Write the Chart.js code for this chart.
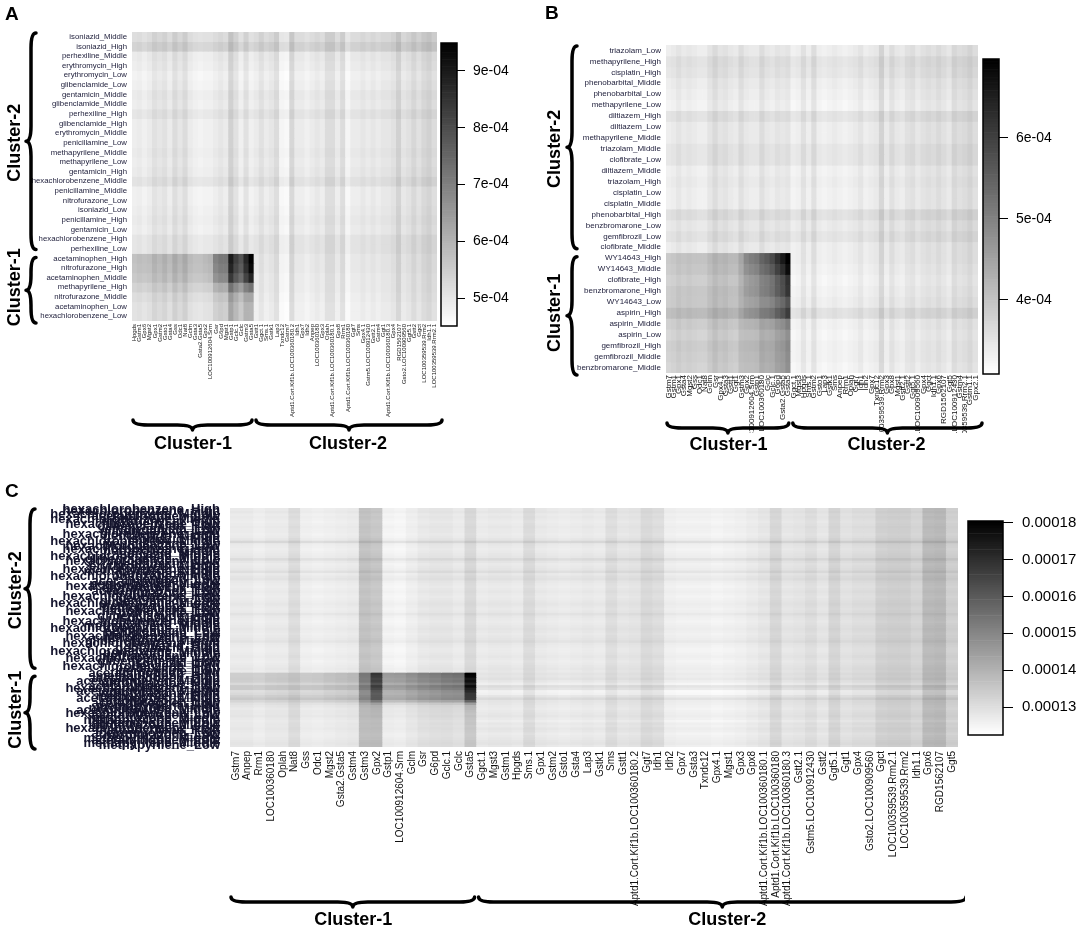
<!DOCTYPE html>
<html>
<head>
<meta charset="utf-8">
<script src="https://cdn.jsdelivr.net/npm/chart.js@4.4.1/dist/chart.umd.min.js"></script>
<style>
html, body { margin: 0; padding: 0; background: #fff; }
#fig { position: relative; width: 1084px; height: 929px; overflow: hidden; background: #fff; }
canvas { position: absolute; }
</style>
</head>
<body>
<div id="fig">
  <canvas id="heatA" width="445" height="470" style="left:0px;top:0px;"></canvas>
  <canvas id="heatB" width="455" height="470" style="left:530px;top:0px;"></canvas>
  <canvas id="heatC" width="965" height="449" style="left:0px;top:480px;"></canvas>
  <canvas id="barA" width="100" height="305" style="left:436px;top:33px;"></canvas>
  <canvas id="barB" width="106" height="335" style="left:978px;top:49px;"></canvas>
  <canvas id="barC" width="124" height="234" style="left:960px;top:511px;"></canvas>
</div>
<script>
// values are in units of 1e-4 throughout

// ---------- panel A ----------
const rowsA = ['isoniazid_Middle', 'isoniazid_High', 'perhexiline_Middle', 'erythromycin_High', 'erythromycin_Low',
  'glibenclamide_Low', 'gentamicin_Middle', 'glibenclamide_Middle', 'perhexiline_High', 'glibenclamide_High',
  'erythromycin_Middle', 'penicillamine_Low', 'methapyrilene_Middle', 'methapyrilene_Low', 'gentamicin_High',
  'hexachlorobenzene_Middle', 'penicillamine_Middle', 'nitrofurazone_Low', 'isoniazid_Low', 'penicillamine_High',
  'gentamicin_Low', 'hexachlorobenzene_High', 'perhexiline_Low',
  'acetaminophen_High', 'nitrofurazone_High', 'acetaminophen_Middle', 'methapyrilene_High', 'nitrofurazone_Middle',
  'acetaminophen_Low', 'hexachlorobenzene_Low'];
const splitRowA = 23;
const colsA = ['Hpgds', 'Gstm1', 'Gpx6', 'Mgst2', 'Gpx1', 'Gstm2', 'Gsto1', 'Gsta4', 'Gss', 'Odc1', 'Nat8', 'Gclm',
  'Gsta3', 'Gsta2.Gsta5', 'Gpx2', 'LOC100912604.Srm', 'Gsr', 'G6pd', 'Mgst1', 'Gstp1', 'Gclc.1', 'Gclc', 'Gstm3', 'Gsta5',
  'Gstt1', 'Ggct.1', 'Sms.1', 'Gstk1', 'Lap3', 'Txndc12', 'Gstm7', 'Aptd1.Cort.Kif1b.LOC100360180.2', 'Idh1', 'Gpx7',
  'Idh2', 'Anpep', 'LOC100360180', 'Gpx3', 'Oplah', 'Aptd1.Cort.Kif1b.LOC100360180.1', 'Gpx8', 'Rrm1',
  'Aptd1.Cort.Kif1b.LOC100360180', 'Ggt7', 'Sms', 'Gpx4.1', 'Gstm5.LOC100912430', 'Gstt2.1', 'Gstm4', 'Ggt1',
  'Aptd1.Cort.Kif1b.LOC100360180.3', 'Gpx4', 'RGD1562107', 'Gsto2.LOC100909560', 'Ggt5.1', 'Gstt2', 'Ggct',
  'LOC100359539.Rrm2', 'Idh1.1', 'LOC100359539.Rrm2.1'];
const splitColA = 24;
// gene level seen in the light rows
const colBaseA = [4.85, 4.9, 4.8, 4.9, 5.1, 5.0, 5.1, 4.9, 5.2, 5.0, 5.2, 4.9, 4.8, 4.75, 4.8, 4.8, 4.9, 5.0, 4.9, 5.4,
  5.1, 4.8, 5.1, 4.8, 4.9, 5.1, 4.9, 5.0, 5.2, 4.7, 4.65, 5.3, 4.9, 4.9, 4.8, 4.9, 5.0, 4.9, 5.2, 5.2, 4.9, 5.2, 4.7,
  4.9, 4.9, 5.0, 4.9, 5.0, 4.9, 5.0, 5.0, 5.1, 5.4, 5.0, 5.1, 5.3, 5.1, 5.3, 5.4, 5.2];
const rowShiftA = [0.3, 0.5, 0.05, 0, -0.1, -0.05, 0.05, 0, 0.15, 0, 0, 0, 0.05, 0, 0.05, 0.2, -0.05, -0.05, 0, 0.05,
  0, 0.15, 0.15, 0.05, 0.05, 0, 0, -0.05, -0.1, -0.1];
// Cluster-1 x Cluster-1 block
const blockLevelA = [0.8, 0.75, 0.7, 0.5, 0.35, 0.3, 0.3];
const blockRampA = [1.0, 0.95, 0.85, 0.5, 0.3, 0.25, 0.25];
const blockColA = [0, 0.05, 0.1, 0.05, 0.1, 0.05, 0.15, 0.1, 0.15, 0.1, 0.15, 0.1, 0.1, 0.15, 0.2, 0.3, 1.2, 1.3,
  1.4, 2.7, 2.3, 2.2, 2.8, 3.9];
const rangeA = [4.51, 9.49];
const ticksA = [5, 6, 7, 8, 9];

// ---------- panel B ----------
const rowsB = ['triazolam_Low', 'methapyrilene_High', 'cisplatin_High', 'phenobarbital_Middle', 'phenobarbital_Low',
  'methapyrilene_Low', 'diltiazem_High', 'diltiazem_Low', 'methapyrilene_Middle', 'triazolam_Middle', 'clofibrate_Low',
  'diltiazem_Middle', 'triazolam_High', 'cisplatin_Low', 'cisplatin_Middle', 'phenobarbital_High', 'benzbromarone_Low',
  'gemfibrozil_Low', 'clofibrate_Middle',
  'WY14643_High', 'WY14643_Middle', 'clofibrate_High', 'benzbromarone_High', 'WY14643_Low', 'aspirin_High',
  'aspirin_Middle', 'aspirin_Low', 'gemfibrozil_High', 'gemfibrozil_Middle', 'benzbromarone_Middle'];
const splitRowB = 19;
const colsB = ['Gstm7', 'Gstm1', 'Gpx1', 'Gsta4', 'Mgst2', 'Gss', 'Odc1', 'Nat8', 'Gclm', 'Gsr', 'Gpx4.1', 'Gsta3',
  'Gstt1', 'Ggt1', 'Gstm3', 'Gpx2', 'LOC100912604.Srm', 'Gstp1', 'LOC100360180', 'Gclc', 'Gclc.1', 'G6pd',
  'Gsta2.Gsta5', 'Gsta5',
  'Ggct.1', 'Mgst3', 'Hpgds', 'Sms.1', 'Gstm2', 'Gsto1', 'Lap3', 'Gstk1', 'Sms', 'Anpep', 'Rrm1', 'Oplah', 'Ggt7',
  'Idh1', 'Idh2', 'Gpx7', 'Txndc12', 'LOC100359539.Rrm2', 'Gpx3', 'Gpx8', 'Mgst1', 'Gstt2.1', 'Gstt2', 'Ggt5.1',
  'Gsto2.LOC100909560', 'Gpx4', 'Ggct', 'Idh1.1', 'Gpx6', 'RGD1562107', 'Ggt5', 'Gstm5.LOC100912430', 'Gstm4',
  'LOC100359539.Rrm2.1', 'Gstm1.1', 'Gpx2.1'];
const splitColB = 24;
const colBaseB = [3.3, 3.35, 3.45, 3.35, 3.4, 3.35, 3.3, 3.3, 3.45, 3.6, 3.45, 3.5, 3.4, 3.35, 3.55, 3.4, 3.35, 3.35,
  3.55, 3.4, 3.35, 3.45, 3.4, 3.45, 3.25, 3.3, 3.5, 3.3, 3.55, 3.3, 3.25, 3.3, 3.35, 3.3, 3.25, 3.3, 3.35, 3.45, 3.3,
  3.35, 3.4, 3.7, 3.35, 3.55, 3.4, 3.35, 3.5, 3.55, 3.4, 3.5, 3.55, 3.5, 3.6, 3.5, 3.4, 3.65, 3.55, 3.6, 3.7, 3.55];
const rowShiftB = [0.05, 0.2, 0.15, 0.05, 0, -0.05, 0.2, 0.05, 0.05, 0.15, 0.15, 0, 0.05, 0, 0, 0.25, 0.1, 0.2, 0.05,
  0.05, 0, -0.05, 0, 0.05, 0.25, 0, -0.05, 0, 0, -0.05];
const blockLevelB = [0.55, 0.55, 0.5, 0.55, 0.5, 0.5, 0.5, 0.45, 0.5, 0.45, 0.45];
const blockRampB = [1.0, 0.9, 0.75, 0.7, 0.55, 0.6, 0.35, 0.3, 0.3, 0.3, 0.3];
const blockColB = [0, 0, 0, 0.05, 0.05, 0.05, 0.1, 0.1, 0.1, 0.1, 0.15, 0.15, 0.15, 0.2, 0.3, 0.9, 1.1, 1.2, 1.3,
  1.6, 1.9, 2.2, 2.6, 3.1];
const rangeB = [3.086, 6.975];
const ticksB = [4, 5, 6];

// ---------- panel C ----------
const rowsC = ['hexachlorobenzene_High', 'hexachlorobenzene_High', 'hexachlorobenzene_Middle', 'acetaminophen_Low',
  'hexachlorobenzene_Middle', 'erythromycin_High', 'hexachlorobenzene_Low', 'glibenclamide_High', 'erythromycin_Low',
  'glibenclamide_Low', 'hexachlorobenzene_High', 'gentamicin_Middle', 'isoniazid_High', 'hexachlorobenzene_Middle',
  'penicillamine_Low', 'hexachlorobenzene_Low', 'hexachlorobenzene_High', 'perhexiline_Middle', 'isoniazid_Middle',
  'hexachlorobenzene_Middle', 'glibenclamide_Middle', 'hexachlorobenzene_Low', 'gentamicin_High', 'erythromycin_Middle',
  'hexachlorobenzene_High', 'methapyrilene_Middle', 'perhexiline_High', 'hexachlorobenzene_Middle', 'isoniazid_Low',
  'acetaminophen_Low', 'penicillamine_Middle', 'hexachlorobenzene_Low', 'erythromycin_High', 'acetaminophen_Low',
  'nitrofurazone_Low', 'hexachlorobenzene_High', 'gentamicin_Low', 'glibenclamide_Low', 'hexachlorobenzene_Middle',
  'methapyrilene_Low', 'penicillamine_High', 'hexachlorobenzene_Low', 'perhexiline_Low', 'glibenclamide_High',
  'isoniazid_Middle', 'hexachlorobenzene_High', 'gentamicin_Middle', 'methapyrilene_Middle', 'hexachlorobenzene_Middle',
  'erythromycin_Low', 'penicillamine_Low', 'hexachlorobenzene_Low', 'nitrofurazone_Low', 'glibenclamide_Middle',
  'hexachlorobenzene_High', 'isoniazid_High', 'gentamicin_High', 'hexachlorobenzene_Middle', 'perhexiline_Middle',
  'methapyrilene_Low', 'hexachlorobenzene_Low', 'glibenclamide_High', 'isoniazid_Low', 'hexachlorobenzene_High',
  'perhexiline_High', 'perhexiline_Low',
  'acetaminophen_High', 'methapyrilene_High', 'acetaminophen_High', 'acetaminophen_Middle', 'nitrofurazone_High',
  'acetaminophen_High', 'hexachlorobenzene_Low', 'acetaminophen_Middle', 'nitrofurazone_High', 'methapyrilene_High',
  'acetaminophen_Middle', 'nitrofurazone_High', 'acetaminophen_Low', 'methapyrilene_High', 'nitrofurazone_Middle',
  'acetaminophen_Middle', 'hexachlorobenzene_Low', 'acetaminophen_Low', 'nitrofurazone_Middle', 'methapyrilene_Middle',
  'acetaminophen_Low', 'nitrofurazone_Middle', 'hexachlorobenzene_Low', 'methapyrilene_High', 'acetaminophen_Low',
  'nitrofurazone_Low', 'methapyrilene_Middle', 'acetaminophen_Low', 'methapyrilene_Middle', 'methapyrilene_Low'];
const splitRowC = 66;
const colsC = ['Gstm7', 'Anpep', 'Rrm1', 'LOC100360180', 'Oplah', 'Nat8', 'Gss', 'Odc1', 'Mgst2', 'Gsta2.Gsta5',
  'Gstm4', 'Gstm3', 'Gpx2', 'Gstp1', 'LOC100912604.Srm', 'Gclm', 'Gsr', 'G6pd', 'Gclc.1', 'Gclc', 'Gsta5',
  'Ggct.1', 'Mgst3', 'Gstm1', 'Hpgds', 'Sms.1', 'Gpx1', 'Gstm2', 'Gsto1', 'Gsta4', 'Lap3', 'Gstk1', 'Sms', 'Gstt1',
  'Aptd1.Cort.Kif1b.LOC100360180.2', 'Ggt7', 'Idh1', 'Idh2', 'Gpx7', 'Gsta3', 'Txndc12', 'Gpx4.1', 'Mgst1', 'Gpx3',
  'Gpx8', 'Aptd1.Cort.Kif1b.LOC100360180.1', 'Aptd1.Cort.Kif1b.LOC100360180', 'Aptd1.Cort.Kif1b.LOC100360180.3',
  'Gstt2.1', 'Gstm5.LOC100912430', 'Gstt2', 'Ggt5.1', 'Ggt1', 'Gpx4', 'Gsto2.LOC100909560', 'Ggct',
  'LOC100359539.Rrm2.1', 'LOC100359539.Rrm2', 'Idh1.1', 'Gpx6', 'RGD1562107', 'Ggt5'];
const splitColC = 21;
const colBaseC = [1.27, 1.27, 1.26, 1.27, 1.27, 1.30, 1.26, 1.255, 1.26, 1.265, 1.27, 1.36, 1.35, 1.25, 1.245, 1.26,
  1.275, 1.28, 1.28, 1.27, 1.31, 1.27, 1.275, 1.275, 1.27, 1.305, 1.275, 1.27, 1.265, 1.27, 1.275, 1.27, 1.30, 1.28,
  1.285, 1.31, 1.30, 1.26, 1.255, 1.255, 1.255, 1.25, 1.255, 1.26, 1.27, 1.28, 1.315, 1.28, 1.285, 1.30, 1.28, 1.32,
  1.29, 1.30, 1.30, 1.33, 1.335, 1.335, 1.32, 1.38, 1.385, 1.33];
const rowShiftC = [0.005, 0.01, 0, 0.005, 0, -0.005, 0, 0.005, 0, 0,
  -0.005, 0, 0.01, 0.045, 0.005, 0, -0.005, 0, 0.005, 0.01,
  0.035, 0.01, 0, 0.005, 0.01, 0.03, 0.005, 0.015, 0.02, 0.005,
  0, -0.005, 0, 0.005, 0, -0.005, 0, 0.005, 0.01, 0.005,
  0, 0.005, 0.02, 0.005, 0, -0.005, 0, 0.005, 0.01, 0.005,
  0, 0.005, 0.01, 0.02, 0.005, 0, -0.005, -0.005, 0, 0.005,
  0, -0.005, 0, 0.005, 0.01, 0.005,
  0.015, 0.01, 0.02, 0.005, -0.01, 0.03, 0.015, -0.02, -0.015, 0.01,
  0.035, 0.01, 0.005, 0, -0.005, 0, 0.005, 0.01, 0, -0.01,
  0.005, 0, 0.01, 0.005, -0.005, 0, 0.005, 0.01, 0.015, 0.005];
const blockLevelC = [0.05, 0.055, 0.05, 0.06, 0.05, 0.045, 0.06, 0.05, 0.055, 0.05, 0.045, 0.04, 0.02, 0.015, 0.01,
  0.01, 0.005, 0.005, 0.005, 0.01, 0, 0.005, 0, 0, 0.005, 0, 0, 0, 0, 0.005];
const blockRampC = [1.0, 0.95, 0.85, 0.9, 0.85, 0.9, 0.8, 0.85, 0.75, 0.7, 0.65, 0.5, 0.25, 0.15, 0.15, 0.12, 0.1,
  0.1, 0.1, 0.1, 0.1, 0.08, 0.08, 0.08, 0.08, 0.08, 0.08, 0.08, 0.08, 0.08];
const blockColC = [0, 0, 0.005, 0.01, 0.015, 0, 0.02, 0.03, 0.04, 0.045, 0.05, 0.11, 0.27, 0.14, 0.15, 0.16, 0.17,
  0.18, 0.2, 0.22, 0.44];
const rangeC = [1.224, 1.805];
const ticksC = [1.3, 1.4, 1.5, 1.6, 1.7, 1.8];

Chart.defaults.font.family = '"Liberation Sans", Arial, sans-serif';

// cell value = gene level + treatment shift (+ extra inside the Cluster-1 block)
function buildMatrix(rows, colBase, rowShift, splitRow, level, ramp, blockCol) {
  return rows.map((_, r) => colBase.map((b, c) => {
    let v = b + rowShift[r];
    if (r >= splitRow && c < blockCol.length) v += level[r - splitRow] + ramp[r - splitRow] * blockCol[c];
    return v;
  }));
}

function gray(v, range) {
  let t = (v - range[0]) / (range[1] - range[0]);
  t = Math.max(0, Math.min(1, t));
  const g = Math.round(255 * (1 - t));
  return 'rgb(' + g + ',' + g + ',' + g + ')';
}

function bracePath(ctx, len, d) {
  const m = len / 2, q = Math.min(3 * d, len / 4);
  ctx.beginPath();
  ctx.moveTo(0, -d);
  ctx.quadraticCurveTo(0, 0, q, 0);
  ctx.lineTo(m - q, 0);
  ctx.quadraticCurveTo(m, 0, m, d);
  ctx.quadraticCurveTo(m, 0, m + q, 0);
  ctx.lineTo(len - q, 0);
  ctx.quadraticCurveTo(len, 0, len, -d);
  ctx.stroke();
}
function hBrace(ctx, x1, x2, y, d) {
  ctx.save(); ctx.translate(x1, y); bracePath(ctx, x2 - x1, d); ctx.restore();
}
function vBrace(ctx, x, y1, y2, d) {
  ctx.save(); ctx.translate(x, y1); ctx.rotate(Math.PI / 2); bracePath(ctx, y2 - y1, d); ctx.restore();
}
function vText(ctx, t, x, y) {
  ctx.save(); ctx.translate(x, y); ctx.rotate(-Math.PI / 2); ctx.fillText(t, 0, 0); ctx.restore();
}

// braces, cluster names and panel letter
const clusterMarks = {
  id: 'clusterMarks',
  afterDraw(chart, args, o) {
    const ctx = chart.ctx, a = chart.chartArea;
    const xs = chart.scales.x, ys = chart.scales.y;
    const ySplit = ys.getPixelForValue(o.splitRow);
    const xSplit = (xs.getPixelForValue(o.splitCol - 1) + xs.getPixelForValue(o.splitCol)) / 2;
    const xEnd = a.right + o.braceExt;
    ctx.save();
    ctx.fillStyle = '#000';
    ctx.strokeStyle = '#000';
    ctx.font = 'bold 19px "Liberation Sans", Arial';
    ctx.textAlign = 'left';
    ctx.textBaseline = 'alphabetic';
    ctx.fillText(o.letter, o.letterX, o.letterY);
    ctx.lineWidth = 3.5;
    ctx.lineCap = 'round';
    ctx.lineJoin = 'round';
    vBrace(ctx, o.braceX, a.top + 1, ySplit - 4, 5);
    vBrace(ctx, o.braceX, ySplit + 4, a.bottom + 2, 5);
    hBrace(ctx, a.left + 1, xSplit - 2, o.braceY, 5);
    hBrace(ctx, xSplit + 2, xEnd, o.braceY, 5);
    ctx.font = 'bold 18px "Liberation Sans", Arial';
    ctx.textAlign = 'center';
    ctx.textBaseline = 'middle';
    vText(ctx, 'Cluster-2', o.textX, (a.top + ySplit) / 2);
    vText(ctx, 'Cluster-1', o.textX, (ySplit + a.bottom) / 2);
    ctx.fillText('Cluster-1', (a.left + xSplit) / 2, o.textY);
    ctx.fillText('Cluster-2', (xSplit + xEnd) / 2 + o.textShift, o.textY);
    ctx.restore();
  }
};

function heatmap(id, p) {
  const matrix = buildMatrix(p.rows, p.colBase, p.rowShift, p.splitRow, p.level, p.ramp, p.blockCol);
  const datasets = p.rows.map((name, r) => ({
    label: name,
    data: p.cols.map(() => [r, r + 1]),
    backgroundColor: matrix[r].map(v => gray(v, p.range)),
    borderWidth: 0,
    grouped: false,
    barPercentage: 1,
    categoryPercentage: 1
  }));
  return new Chart(document.getElementById(id), {
    type: 'bar',
    data: { labels: p.cols, datasets: datasets },
    plugins: [clusterMarks],
    options: {
      responsive: false,
      animation: false,
      events: [],
      layout: { padding: p.pad },
      plugins: {
        legend: { display: false },
        tooltip: { enabled: false },
        clusterMarks: p.marks
      },
      scales: {
        x: {
          type: 'category',
          offset: true,
          grid: { display: false, drawTicks: false },
          border: { display: false },
          ticks: { autoSkip: false, minRotation: 90, maxRotation: 90, padding: p.xPad,
            font: p.xFont, color: '#111' },
          afterFit: s => { s.height = p.xHeight; s.paddingLeft = 0; s.paddingRight = 0; }
        },
        y: { type: 'linear', min: 0, max: p.rows.length, reverse: true, display: false },
        yl: {
          type: 'category',
          axis: 'y',
          position: 'left',
          labels: p.rows,
          offset: true,
          grid: { display: false, drawTicks: false },
          border: { display: false },
          ticks: { autoSkip: false, padding: p.yPad, font: p.yFont, color: p.yColor },
          afterFit: s => { s.width = p.yWidth; s.paddingTop = 0; s.paddingBottom = 0; }
        }
      }
    }
  });
}

const frame = {
  id: 'frame',
  afterDraw(chart) {
    const a = chart.chartArea, ctx = chart.ctx;
    ctx.save();
    ctx.strokeStyle = '#000';
    ctx.lineWidth = 1.5;
    ctx.strokeRect(a.left, a.top, a.right - a.left, a.bottom - a.top);
    ctx.restore();
  }
};

function colorbar(id, c) {
  const n = 120, step = (c.range[1] - c.range[0]) / n;
  const datasets = [];
  for (let i = 0; i < n; i++) {
    const lo = c.range[0] + i * step;
    datasets.push({
      data: [[lo, lo + step]],
      backgroundColor: gray(lo + step / 2, c.range),
      borderWidth: 0, grouped: false, barPercentage: 1, categoryPercentage: 1
    });
  }
  return new Chart(document.getElementById(id), {
    type: 'bar',
    data: { labels: [''], datasets: datasets },
    plugins: [frame],
    options: {
      responsive: false,
      animation: false,
      events: [],
      layout: { padding: c.pad },
      plugins: { legend: { display: false }, tooltip: { enabled: false } },
      scales: {
        x: { display: false, offset: true },
        y: {
          type: 'linear',
          position: 'right',
          min: c.range[0],
          max: c.range[1],
          grid: { display: true, drawOnChartArea: false, drawTicks: true, tickLength: c.tickLen, color: '#000', lineWidth: 1 },
          border: { display: false },
          ticks: { padding: c.tickPad, color: '#000', font: { size: c.fontSize }, callback: c.format },
          afterBuildTicks: s => { s.ticks = c.ticks.map(v => ({ value: v })); },
          afterFit: s => { s.width = c.axisWidth; s.paddingTop = 0; s.paddingBottom = 0; }
        }
      }
    }
  });
}

heatmap('heatA', {
  rows: rowsA, cols: colsA, colBase: colBaseA, rowShift: rowShiftA, splitRow: splitRowA,
  level: blockLevelA, ramp: blockRampA, blockCol: blockColA, range: rangeA,
  pad: { left: 32, right: 8, top: 32, bottom: 49 },
  xHeight: 100, xPad: 3, xFont: { size: 6 },
  yWidth: 100, yPad: 5, yFont: { size: 7.8 }, yColor: '#23233f',
  marks: { letter: 'A', letterX: 5, letterY: 20, splitRow: splitRowA, splitCol: splitColA,
    braceX: 31, textX: 15, braceY: 425, textY: 444, braceExt: 5, textShift: 0 }
});

heatmap('heatB', {
  rows: rowsB, cols: colsB, colBase: colBaseB, rowShift: rowShiftB, splitRow: splitRowB,
  level: blockLevelB, ramp: blockRampB, blockCol: blockColB, range: rangeB,
  pad: { left: 36, right: 7, top: 45, bottom: 37 },
  xHeight: 60, xPad: 2, xFont: { size: 8 },
  yWidth: 100, yPad: 5, yFont: { size: 8 }, yColor: '#23233f',
  marks: { letter: 'B', letterX: 15, letterY: 19, splitRow: splitRowB, splitCol: splitColB,
    braceX: 42, textX: 25, braceY: 428, textY: 445, braceExt: 4, textShift: 0 }
});

heatmap('heatC', {
  rows: rowsC, cols: colsC, colBase: colBaseC, rowShift: rowShiftC, splitRow: splitRowC,
  level: blockLevelC, ramp: blockRampC, blockCol: blockColC, range: rangeC,
  pad: { left: 30, right: 7, top: 28, bottom: 7 },
  xHeight: 175, xPad: 4, xFont: { size: 10 },
  yWidth: 200, yPad: 10, yFont: { size: 13, weight: 'bold' }, yColor: '#15152e',
  marks: { letter: 'C', letterX: 5, letterY: 17, splitRow: splitRowC, splitCol: splitColC,
    braceX: 30, textX: 16, braceY: 422, textY: 440, braceExt: 8, textShift: 6 }
});

const fmtE4 = v => v + 'e-04';
colorbar('barA', { range: rangeA, ticks: ticksA, format: fmtE4, pad: { left: 5, top: 10, bottom: 12, right: 0 },
  axisWidth: 79, tickLen: 8, tickPad: 8, fontSize: 14 });
colorbar('barB', { range: rangeB, ticks: ticksB, format: fmtE4, pad: { left: 5, top: 10, bottom: 10, right: 0 },
  axisWidth: 85, tickLen: 9, tickPad: 8, fontSize: 14 });
colorbar('barC', { range: rangeC, ticks: ticksC, format: v => (v / 10000).toFixed(5),
  pad: { left: 8, top: 10, bottom: 10, right: 0 }, axisWidth: 81, tickLen: 10, tickPad: 9, fontSize: 15 });
</script>
</body>
</html>
